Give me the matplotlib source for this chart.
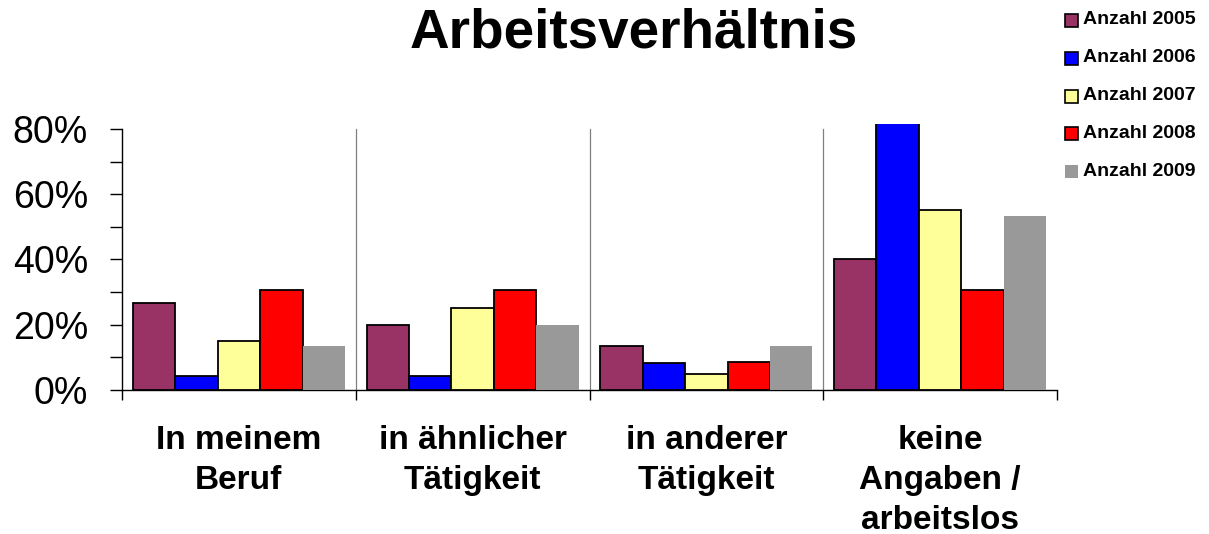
import matplotlib
matplotlib.use("Agg")
import matplotlib.pyplot as plt
from matplotlib.patches import Rectangle
from matplotlib.ticker import FixedLocator, FuncFormatter
import numpy as np

categories = ["In meinem\nBeruf", "in ähnlicher\nTätigkeit", "in anderer\nTätigkeit",
              "keine\nAngaben /\narbeitslos"]
series_names = ["Anzahl 2005", "Anzahl 2006", "Anzahl 2007", "Anzahl 2008", "Anzahl 2009"]
v2005 = [0.268, 0.199, 0.135, 0.402]
v2006 = [0.043, 0.043, 0.084, 0.90]
v2007 = [0.151, 0.251, 0.050, 0.551]
v2008 = [0.306, 0.306, 0.087, 0.306]
v2009 = [0.135, 0.199, 0.135, 0.533]
series_values = [v2005, v2006, v2007, v2008, v2009]
colors = ["#993366", "#0000FF", "#FFFF99", "#FF0000", "#999999"]
edges = ["black", "black", "black", "black", "none"]
yticks = [0, 0.2, 0.4, 0.6, 0.8]

plt.rcParams['font.family'] = ['Liberation Sans', 'DejaVu Sans']

fig = plt.figure(figsize=(12.09, 5.34), dpi=100)
W, H = 1209, 534
ax = fig.add_axes([122 / W, 1 - 390 / H, (1057 - 122) / W, (390 - 124) / H])

n = len(series_names)
bw = 0.1815
x = np.arange(len(categories)) + 0.5
for i, (name, vals) in enumerate(zip(series_names, series_values)):
    offs = (i - (n - 1) / 2) * bw
    ax.bar(x + offs, vals, width=bw, color=colors[i], edgecolor=edges[i],
           linewidth=1.3, zorder=3)

ax.set_xlim(0, len(categories))
ax.set_ylim(0, 0.815)

for s in ["top", "right"]:
    ax.spines[s].set_visible(False)
ax.spines["left"].set_bounds(0, 0.8)
ax.spines["left"].set_linewidth(1.0)
ax.spines["bottom"].set_linewidth(1.0)

# vertical separators
for b in range(1, len(categories)):
    ax.plot([b, b], [0, 0.8], color="#808080", linewidth=0.9, zorder=1)

# y ticks
ax.yaxis.set_major_locator(FixedLocator(yticks))
ax.yaxis.set_minor_locator(FixedLocator([0.1, 0.3, 0.5, 0.7]))
ax.yaxis.set_major_formatter(FuncFormatter(lambda v, p: f"{v*100:.0f}%"))
ax.tick_params(axis="y", which="both", direction="out", length=8.5, width=1.0)
ax.tick_params(axis="y", which="major", labelsize=27, pad=16)

# x ticks: boundaries as major ticks, category labels on minor ticks
ax.xaxis.set_major_locator(FixedLocator(np.arange(len(categories) + 1)))
ax.xaxis.set_major_formatter(FuncFormatter(lambda v, p: ""))
ax.xaxis.set_minor_locator(FixedLocator(x))
ax.set_xticklabels(categories, minor=True, fontsize=24, fontweight="bold",
                   linespacing=1.38)
ax.tick_params(axis="x", which="major", direction="out", length=7.5, width=1.0)
ax.tick_params(axis="x", which="minor", length=0, pad=25)

fig.text(634 / W, 1 - 34 / H, "Arbeitsverhältnis", ha="center", va="center",
         fontsize=39.5, fontweight="bold")

# legend
ys = [20, 58, 96, 134, 171]
for i, name in enumerate(series_names):
    yc = ys[i]
    fig.patches.append(Rectangle((1065 / W, 1 - (yc + 6.5) / H), 13 / W, 13 / H,
                                 transform=fig.transFigure, facecolor=colors[i],
                                 edgecolor=edges[i], linewidth=1.2))
    fig.text(1083 / W, 1 - yc / H, name, ha="left", va="center",
             fontsize=14, fontweight="bold")

fig.savefig("out.png", dpi=100)
